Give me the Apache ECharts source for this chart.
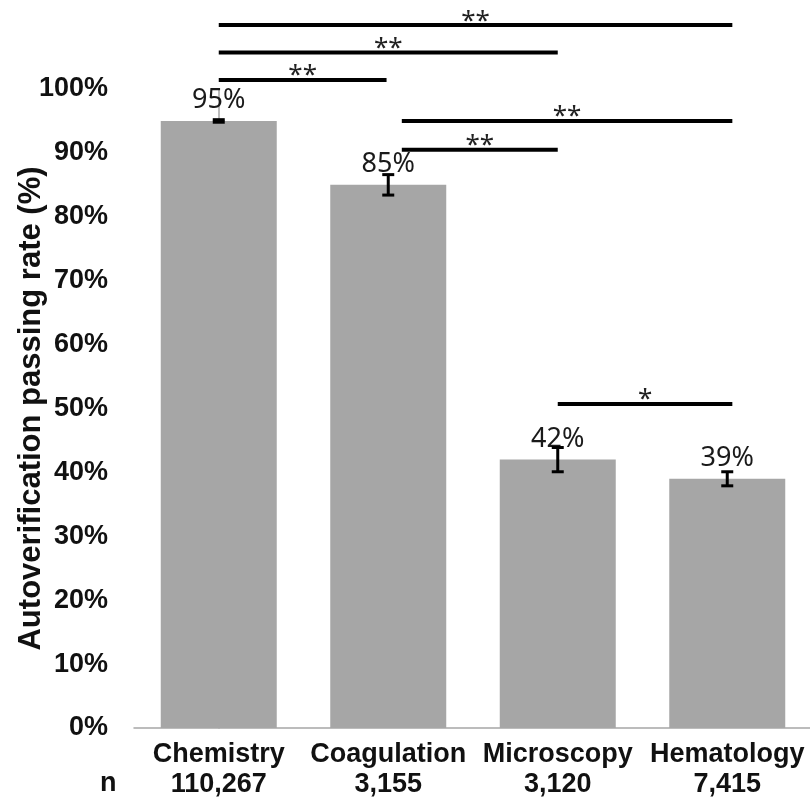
<!DOCTYPE html>
<html>
<head>
<meta charset="utf-8">
<script src="https://cdn.jsdelivr.net/npm/echarts@6/dist/echarts.min.js"></script>
<style>
html,body{margin:0;padding:0;background:#fff;}
#chart{width:810px;height:801px;}
</style>
</head>
<body>
<div id="chart"></div>
<script>
const categories = ['Chemistry', 'Coagulation', 'Microscopy', 'Hematology'];
const sampleSizes = ['110,267', '3,155', '3,120', '7,415'];
const passRates = [95, 85, 42, 39];
const errorHalf = [0.2, 1.6, 1.9, 1.1];

const bracketFrom = [0, 0, 0, 1.08, 1.08, 2];
const bracketTo = [3.03, 2, 0.99, 3.03, 2, 3.03];
const bracketLevel = [110.0, 105.7, 101.4, 95.0, 90.5, 50.7];
const bracketMark = ['**', '**', '**', '**', '**', '*'];

const boldFont = '"Liberation Sans", Arial, sans-serif';
const plainFont = '"Noto Sans", sans-serif';

const chart = echarts.init(document.getElementById('chart'));

chart.setOption({
  animation: false,
  backgroundColor: '#fff',
  grid: { left: 134, top: 89, width: 678, bottom: 73, outerBoundsMode: 'none', containLabel: false },
  xAxis: [
    {
      type: 'category',
      data: categories,
      axisLine: { show: true, lineStyle: { color: '#a6a6a6', width: 1.5 } },
      axisTick: { show: false },
      axisLabel: {
        interval: 0,
        margin: 12,
        color: '#111',
        fontFamily: boldFont,
        fontWeight: 'bold',
        fontSize: 27,
        lineHeight: 30,
        formatter: (v, i) => v + '\n' + sampleSizes[i]
      }
    },
    { type: 'value', min: -0.5, max: 3.5, show: false }
  ],
  yAxis: {
    type: 'value',
    min: 0,
    max: 100,
    interval: 10,
    axisLine: { show: true, lineStyle: { color: '#a6a6a6', width: 1.5 } },
    axisTick: { show: false },
    splitLine: { show: false },
    axisLabel: {
      formatter: '{value}%',
      margin: 26,
      color: '#111',
      fontFamily: boldFont,
      fontWeight: 'bold',
      fontSize: 27
    },
    name: 'Autoverification passing rate (%)',
    nameLocation: 'middle',
    nameGap: 87,
    nameMoveOverlap: false,
    nameRotate: 90,
    nameTextStyle: {
      color: '#111',
      fontFamily: boldFont,
      fontWeight: 'bold',
      fontSize: 31
    }
  },
  graphic: [
    {
      type: 'text',
      left: 100,
      top: 770,
      style: { text: 'n', fill: '#111', font: 'bold 27px ' + boldFont }
    }
  ],
  series: [
    {
      type: 'bar',
      data: passRates,
      barWidth: 116,
      itemStyle: { color: '#a6a6a6' },
      label: {
        show: true,
        position: 'top',
        distance: 7,
        formatter: '{c}%',
        color: '#1a1a1a',
        fontFamily: plainFont,
        fontSize: 27
      }
    },
    {
      type: 'custom',
      clip: false,
      data: passRates.map((v, i) => [i, v - errorHalf[i], v + errorHalf[i]]),
      encode: { x: 0, y: [1, 2] },
      renderItem: function (params, api) {
        const lo = api.coord([api.value(0), api.value(1)]);
        const hi = api.coord([api.value(0), api.value(2)]);
        const hw = 6;
        const st = { stroke: '#000', lineWidth: 3 };
        return {
          type: 'group',
          children: [
            { type: 'line', shape: { x1: lo[0], y1: lo[1], x2: hi[0], y2: hi[1] }, style: st },
            { type: 'line', shape: { x1: lo[0] - hw, y1: lo[1], x2: lo[0] + hw, y2: lo[1] }, style: st },
            { type: 'line', shape: { x1: hi[0] - hw, y1: hi[1], x2: hi[0] + hw, y2: hi[1] }, style: st }
          ]
        };
      },
      z: 5
    },
    {
      type: 'custom',
      clip: false,
      xAxisIndex: 1,
      data: bracketFrom.map((f, i) => [f, bracketTo[i], bracketLevel[i]]),
      encode: { x: [0, 1], y: 2 },
      renderItem: function (params, api) {
        const a = api.coord([api.value(0), api.value(2)]);
        const b = api.coord([api.value(1), api.value(2)]);
        return {
          type: 'group',
          children: [
            { type: 'line', shape: { x1: a[0], y1: a[1], x2: b[0], y2: b[1] }, style: { stroke: '#000', lineWidth: 4 } },
            {
              type: 'text',
              x: (a[0] + b[0]) / 2,
              y: a[1] - 4,
              style: {
                text: bracketMark[params.dataIndex],
                font: '26px ' + plainFont,
                fill: '#222',
                align: 'center',
                verticalAlign: 'middle'
              }
            }
          ]
        };
      },
      z: 6
    }
  ]
});
</script>
</body>
</html>
